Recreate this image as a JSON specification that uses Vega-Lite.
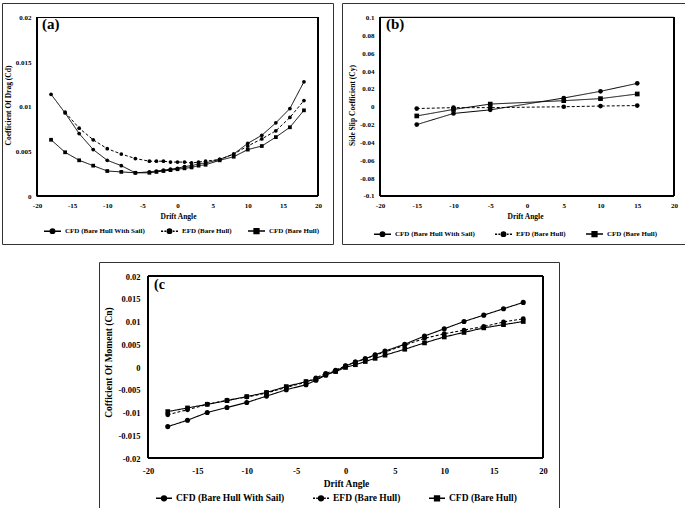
{
  "$schema": "https://vega.github.io/schema/vega-lite/v6.json",
  "padding": {"left": 1, "top": 2, "right": 0, "bottom": 0},
  "config": {
    "view": {"stroke": "#333333", "strokeWidth": 1},
    "axis": {
      "labelFont": "Liberation Serif", "labelFontWeight": "bold", "labelColor": "black",
      "titleFont": "Liberation Serif", "titleFontWeight": "bold", "titleColor": "black",
      "ticks": false, "domain": false, "grid": false
    },
    "legend": {
      "labelFont": "Liberation Serif", "labelFontWeight": "bold", "labelColor": "black",
      "orient": "none", "direction": "horizontal", "columns": 3, "padding": 0, "labelOffset": 3
    },
    "title": {"font": "Liberation Serif", "fontWeight": "bold", "color": "black", "anchor": "start", "frame": "group", "baseline": "alphabetic"}
  },
  "datasets": {
    "a": [
      {"angle": -18, "value": 0.0114, "series": "CFD (Bare Hull With Sail)"},
      {"angle": -16, "value": 0.0093, "series": "CFD (Bare Hull With Sail)"},
      {"angle": -14, "value": 0.0070, "series": "CFD (Bare Hull With Sail)"},
      {"angle": -12, "value": 0.0052, "series": "CFD (Bare Hull With Sail)"},
      {"angle": -10, "value": 0.0040, "series": "CFD (Bare Hull With Sail)"},
      {"angle": -8, "value": 0.0034, "series": "CFD (Bare Hull With Sail)"},
      {"angle": -6, "value": 0.0026, "series": "CFD (Bare Hull With Sail)"},
      {"angle": -4, "value": 0.0027, "series": "CFD (Bare Hull With Sail)"},
      {"angle": -3, "value": 0.0028, "series": "CFD (Bare Hull With Sail)"},
      {"angle": -2, "value": 0.0029, "series": "CFD (Bare Hull With Sail)"},
      {"angle": -1, "value": 0.0030, "series": "CFD (Bare Hull With Sail)"},
      {"angle": 0, "value": 0.0031, "series": "CFD (Bare Hull With Sail)"},
      {"angle": 1, "value": 0.0033, "series": "CFD (Bare Hull With Sail)"},
      {"angle": 2, "value": 0.0034, "series": "CFD (Bare Hull With Sail)"},
      {"angle": 3, "value": 0.0036, "series": "CFD (Bare Hull With Sail)"},
      {"angle": 4, "value": 0.0037, "series": "CFD (Bare Hull With Sail)"},
      {"angle": 6, "value": 0.0041, "series": "CFD (Bare Hull With Sail)"},
      {"angle": 8, "value": 0.0047, "series": "CFD (Bare Hull With Sail)"},
      {"angle": 10, "value": 0.0059, "series": "CFD (Bare Hull With Sail)"},
      {"angle": 12, "value": 0.0068, "series": "CFD (Bare Hull With Sail)"},
      {"angle": 14, "value": 0.0082, "series": "CFD (Bare Hull With Sail)"},
      {"angle": 16, "value": 0.0098, "series": "CFD (Bare Hull With Sail)"},
      {"angle": 18, "value": 0.0128, "series": "CFD (Bare Hull With Sail)"},
      {"angle": -16, "value": 0.0094, "series": "EFD (Bare Hull)"},
      {"angle": -14, "value": 0.0076, "series": "EFD (Bare Hull)"},
      {"angle": -12, "value": 0.0063, "series": "EFD (Bare Hull)"},
      {"angle": -10, "value": 0.0053, "series": "EFD (Bare Hull)"},
      {"angle": -8, "value": 0.0047, "series": "EFD (Bare Hull)"},
      {"angle": -6, "value": 0.0042, "series": "EFD (Bare Hull)"},
      {"angle": -4, "value": 0.0039, "series": "EFD (Bare Hull)"},
      {"angle": -3, "value": 0.0039, "series": "EFD (Bare Hull)"},
      {"angle": -2, "value": 0.0039, "series": "EFD (Bare Hull)"},
      {"angle": -1, "value": 0.0038, "series": "EFD (Bare Hull)"},
      {"angle": 0, "value": 0.0038, "series": "EFD (Bare Hull)"},
      {"angle": 1, "value": 0.0038, "series": "EFD (Bare Hull)"},
      {"angle": 2, "value": 0.0037, "series": "EFD (Bare Hull)"},
      {"angle": 3, "value": 0.0038, "series": "EFD (Bare Hull)"},
      {"angle": 4, "value": 0.0039, "series": "EFD (Bare Hull)"},
      {"angle": 6, "value": 0.0041, "series": "EFD (Bare Hull)"},
      {"angle": 8, "value": 0.0047, "series": "EFD (Bare Hull)"},
      {"angle": 10, "value": 0.0056, "series": "EFD (Bare Hull)"},
      {"angle": 12, "value": 0.0064, "series": "EFD (Bare Hull)"},
      {"angle": 14, "value": 0.0073, "series": "EFD (Bare Hull)"},
      {"angle": 16, "value": 0.0088, "series": "EFD (Bare Hull)"},
      {"angle": 18, "value": 0.0107, "series": "EFD (Bare Hull)"},
      {"angle": -18, "value": 0.0063, "series": "CFD (Bare Hull)"},
      {"angle": -16, "value": 0.0049, "series": "CFD (Bare Hull)"},
      {"angle": -14, "value": 0.0040, "series": "CFD (Bare Hull)"},
      {"angle": -12, "value": 0.0034, "series": "CFD (Bare Hull)"},
      {"angle": -10, "value": 0.0028, "series": "CFD (Bare Hull)"},
      {"angle": -8, "value": 0.0027, "series": "CFD (Bare Hull)"},
      {"angle": -6, "value": 0.0026, "series": "CFD (Bare Hull)"},
      {"angle": -4, "value": 0.0026, "series": "CFD (Bare Hull)"},
      {"angle": -3, "value": 0.0027, "series": "CFD (Bare Hull)"},
      {"angle": -2, "value": 0.0028, "series": "CFD (Bare Hull)"},
      {"angle": -1, "value": 0.0029, "series": "CFD (Bare Hull)"},
      {"angle": 0, "value": 0.0030, "series": "CFD (Bare Hull)"},
      {"angle": 1, "value": 0.0031, "series": "CFD (Bare Hull)"},
      {"angle": 2, "value": 0.0032, "series": "CFD (Bare Hull)"},
      {"angle": 3, "value": 0.0034, "series": "CFD (Bare Hull)"},
      {"angle": 4, "value": 0.0035, "series": "CFD (Bare Hull)"},
      {"angle": 6, "value": 0.0040, "series": "CFD (Bare Hull)"},
      {"angle": 8, "value": 0.0044, "series": "CFD (Bare Hull)"},
      {"angle": 10, "value": 0.0052, "series": "CFD (Bare Hull)"},
      {"angle": 12, "value": 0.0056, "series": "CFD (Bare Hull)"},
      {"angle": 14, "value": 0.0066, "series": "CFD (Bare Hull)"},
      {"angle": 16, "value": 0.0077, "series": "CFD (Bare Hull)"},
      {"angle": 18, "value": 0.0096, "series": "CFD (Bare Hull)"}
    ],
    "b": [
      {"angle": -15, "value": -0.0200, "series": "CFD (Bare Hull With Sail)"},
      {"angle": -10, "value": -0.0075, "series": "CFD (Bare Hull With Sail)"},
      {"angle": -5, "value": -0.0035, "series": "CFD (Bare Hull With Sail)"},
      {"angle": 5, "value": 0.0098, "series": "CFD (Bare Hull With Sail)"},
      {"angle": 10, "value": 0.0173, "series": "CFD (Bare Hull With Sail)"},
      {"angle": 15, "value": 0.0262, "series": "CFD (Bare Hull With Sail)"},
      {"angle": -15, "value": -0.0020, "series": "EFD (Bare Hull)"},
      {"angle": -10, "value": -0.0010, "series": "EFD (Bare Hull)"},
      {"angle": -5, "value": -0.0010, "series": "EFD (Bare Hull)"},
      {"angle": 5, "value": 0.0000, "series": "EFD (Bare Hull)"},
      {"angle": 10, "value": 0.0008, "series": "EFD (Bare Hull)"},
      {"angle": 15, "value": 0.0013, "series": "EFD (Bare Hull)"},
      {"angle": -15, "value": -0.0103, "series": "CFD (Bare Hull)"},
      {"angle": -10, "value": -0.0030, "series": "CFD (Bare Hull)"},
      {"angle": -5, "value": 0.0030, "series": "CFD (Bare Hull)"},
      {"angle": 5, "value": 0.0068, "series": "CFD (Bare Hull)"},
      {"angle": 10, "value": 0.0091, "series": "CFD (Bare Hull)"},
      {"angle": 15, "value": 0.0143, "series": "CFD (Bare Hull)"}
    ],
    "c": [
      {"angle": -18, "value": -0.0131, "series": "CFD (Bare Hull With Sail)"},
      {"angle": -16, "value": -0.0117, "series": "CFD (Bare Hull With Sail)"},
      {"angle": -14, "value": -0.0100, "series": "CFD (Bare Hull With Sail)"},
      {"angle": -12, "value": -0.0089, "series": "CFD (Bare Hull With Sail)"},
      {"angle": -10, "value": -0.0078, "series": "CFD (Bare Hull With Sail)"},
      {"angle": -8, "value": -0.0064, "series": "CFD (Bare Hull With Sail)"},
      {"angle": -6, "value": -0.0050, "series": "CFD (Bare Hull With Sail)"},
      {"angle": -4, "value": -0.0039, "series": "CFD (Bare Hull With Sail)"},
      {"angle": -3, "value": -0.0029, "series": "CFD (Bare Hull With Sail)"},
      {"angle": -2, "value": -0.0018, "series": "CFD (Bare Hull With Sail)"},
      {"angle": -1, "value": -0.0009, "series": "CFD (Bare Hull With Sail)"},
      {"angle": 0, "value": 0.0002, "series": "CFD (Bare Hull With Sail)"},
      {"angle": 1, "value": 0.0011, "series": "CFD (Bare Hull With Sail)"},
      {"angle": 2, "value": 0.0018, "series": "CFD (Bare Hull With Sail)"},
      {"angle": 3, "value": 0.0027, "series": "CFD (Bare Hull With Sail)"},
      {"angle": 4, "value": 0.0035, "series": "CFD (Bare Hull With Sail)"},
      {"angle": 6, "value": 0.0050, "series": "CFD (Bare Hull With Sail)"},
      {"angle": 8, "value": 0.0068, "series": "CFD (Bare Hull With Sail)"},
      {"angle": 10, "value": 0.0084, "series": "CFD (Bare Hull With Sail)"},
      {"angle": 12, "value": 0.0100, "series": "CFD (Bare Hull With Sail)"},
      {"angle": 14, "value": 0.0114, "series": "CFD (Bare Hull With Sail)"},
      {"angle": 16, "value": 0.0128, "series": "CFD (Bare Hull With Sail)"},
      {"angle": 18, "value": 0.0142, "series": "CFD (Bare Hull With Sail)"},
      {"angle": -18, "value": -0.0105, "series": "EFD (Bare Hull)"},
      {"angle": -16, "value": -0.0094, "series": "EFD (Bare Hull)"},
      {"angle": -14, "value": -0.0082, "series": "EFD (Bare Hull)"},
      {"angle": -12, "value": -0.0073, "series": "EFD (Bare Hull)"},
      {"angle": -10, "value": -0.0066, "series": "EFD (Bare Hull)"},
      {"angle": -8, "value": -0.0057, "series": "EFD (Bare Hull)"},
      {"angle": -6, "value": -0.0045, "series": "EFD (Bare Hull)"},
      {"angle": -4, "value": -0.0033, "series": "EFD (Bare Hull)"},
      {"angle": -3, "value": -0.0024, "series": "EFD (Bare Hull)"},
      {"angle": -2, "value": -0.0014, "series": "EFD (Bare Hull)"},
      {"angle": -1, "value": -0.0007, "series": "EFD (Bare Hull)"},
      {"angle": 0, "value": 0.0003, "series": "EFD (Bare Hull)"},
      {"angle": 1, "value": 0.0011, "series": "EFD (Bare Hull)"},
      {"angle": 2, "value": 0.0018, "series": "EFD (Bare Hull)"},
      {"angle": 3, "value": 0.0026, "series": "EFD (Bare Hull)"},
      {"angle": 4, "value": 0.0033, "series": "EFD (Bare Hull)"},
      {"angle": 6, "value": 0.0048, "series": "EFD (Bare Hull)"},
      {"angle": 8, "value": 0.0063, "series": "EFD (Bare Hull)"},
      {"angle": 10, "value": 0.0073, "series": "EFD (Bare Hull)"},
      {"angle": 12, "value": 0.0081, "series": "EFD (Bare Hull)"},
      {"angle": 14, "value": 0.0089, "series": "EFD (Bare Hull)"},
      {"angle": 16, "value": 0.0099, "series": "EFD (Bare Hull)"},
      {"angle": 18, "value": 0.0106, "series": "EFD (Bare Hull)"},
      {"angle": -18, "value": -0.0098, "series": "CFD (Bare Hull)"},
      {"angle": -16, "value": -0.0090, "series": "CFD (Bare Hull)"},
      {"angle": -14, "value": -0.0082, "series": "CFD (Bare Hull)"},
      {"angle": -12, "value": -0.0074, "series": "CFD (Bare Hull)"},
      {"angle": -10, "value": -0.0065, "series": "CFD (Bare Hull)"},
      {"angle": -8, "value": -0.0056, "series": "CFD (Bare Hull)"},
      {"angle": -6, "value": -0.0043, "series": "CFD (Bare Hull)"},
      {"angle": -4, "value": -0.0032, "series": "CFD (Bare Hull)"},
      {"angle": -3, "value": -0.0027, "series": "CFD (Bare Hull)"},
      {"angle": -2, "value": -0.0017, "series": "CFD (Bare Hull)"},
      {"angle": -1, "value": -0.0010, "series": "CFD (Bare Hull)"},
      {"angle": 0, "value": -0.0001, "series": "CFD (Bare Hull)"},
      {"angle": 1, "value": 0.0005, "series": "CFD (Bare Hull)"},
      {"angle": 2, "value": 0.0012, "series": "CFD (Bare Hull)"},
      {"angle": 3, "value": 0.0019, "series": "CFD (Bare Hull)"},
      {"angle": 4, "value": 0.0026, "series": "CFD (Bare Hull)"},
      {"angle": 6, "value": 0.0039, "series": "CFD (Bare Hull)"},
      {"angle": 8, "value": 0.0053, "series": "CFD (Bare Hull)"},
      {"angle": 10, "value": 0.0066, "series": "CFD (Bare Hull)"},
      {"angle": 12, "value": 0.0076, "series": "CFD (Bare Hull)"},
      {"angle": 14, "value": 0.0086, "series": "CFD (Bare Hull)"},
      {"angle": 16, "value": 0.0093, "series": "CFD (Bare Hull)"},
      {"angle": 18, "value": 0.0100, "series": "CFD (Bare Hull)"}
    ]
  },
  "spacing": 16,
  "resolve": {
    "scale": {"strokeDash": "independent", "shape": "independent", "size": "independent"},
    "legend": {"strokeDash": "independent", "shape": "independent", "size": "independent"}
  },
  "vconcat": [
    {
      "spacing": 7,
      "resolve": {
        "scale": {"strokeDash": "independent", "shape": "independent", "size": "independent"},
        "legend": {"strokeDash": "independent", "shape": "independent", "size": "independent"}
      },
      "hconcat": [
        {
          "width": 331,
          "height": 241,
          "title": {"text": "(a)", "fontSize": 15, "dx": 40, "offset": -29},
          "data": {"name": "a"},
          "resolve": {"scale": {"shape": "independent"}, "legend": {"shape": "independent"}},
          "encoding": {
            "x": {
              "field": "angle", "type": "quantitative",
              "scale": {"domain": [-24.982, 22.135], "nice": false, "zero": false},
              "axis": {"values": [-20, -15, -10, -5, 0, 5, 10, 15, 20], "offset": -48, "title": "Drift Angle",
                "labelExpr": "replace(format(datum.value, '~g'), '\u2212', '-')",
                "labelFontSize": 7, "titleFontSize": 7.5, "labelPadding": 5, "titlePadding": 4, "titleX": 176}
            },
            "y": {
              "field": "value", "type": "quantitative",
              "scale": {"domain": [-0.005378, 0.021625], "nice": false, "zero": false},
              "axis": {"values": [0, 0.005, 0.01, 0.015, 0.02], "offset": -35, "title": "Coefficient Of Drag (Cd)",
                "labelExpr": "replace(format(datum.value, '~g'), '\u2212', '-')",
                "labelFontSize": 7, "titleFontSize": 7.5, "labelPadding": 6, "titlePadding": 3, "titleY": 102}
            }
          },
          "layer": [
            {
              "mark": {"type": "rect", "fillOpacity": 0, "stroke": "black", "strokeWidth": 1},
              "encoding": {
                "x": {"datum": -20, "type": "quantitative"},
                "x2": {"datum": 20},
                "y": {"datum": 0, "type": "quantitative"},
                "y2": {"datum": 0.02}
              }
            },
            {
              "mark": {"type": "line", "color": "black", "strokeWidth": 1},
              "encoding": {
                "strokeDash": {"field": "series", "type": "nominal",
                  "scale": {"domain": ["CFD (Bare Hull With Sail)", "EFD (Bare Hull)", "CFD (Bare Hull)"], "range": [[1, 0], [3, 2], [1, 0]]}, "legend": null}
              }
            },
            {
              "mark": {"type": "point", "filled": true, "color": "black", "opacity": 1},
              "encoding": {
                "shape": {"field": "series", "type": "nominal", "scale": {"domain": ["CFD (Bare Hull With Sail)", "EFD (Bare Hull)", "CFD (Bare Hull)"], "range": ["circle", "circle", "square"]}, "legend": null},
                "size": {"field": "series", "type": "nominal", "scale": {"domain": ["CFD (Bare Hull With Sail)", "EFD (Bare Hull)", "CFD (Bare Hull)"], "range": [14, 14, 25]}, "legend": null}
              }
            },
            {
              "mark": {"type": "point", "filled": false, "color": "black", "fill": "black", "stroke": "black", "strokeWidth": 1, "opacity": 0},
              "encoding": {
                "shape": {
                  "field": "series", "type": "nominal",
                  "scale": {"domain": ["CFD (Bare Hull With Sail)", "EFD (Bare Hull)", "CFD (Bare Hull)"], "range": [
                    "M-1,0H1M-0.26,0A0.26,0.26,0,1,1,0.26,0A0.26,0.26,0,1,1,-0.26,0Z",
                    "M-1,0H-0.75M-0.6,0H-0.4M0.4,0H0.6M0.75,0H1M-0.26,0A0.26,0.26,0,1,1,0.26,0A0.26,0.26,0,1,1,-0.26,0Z",
                    "M-1,0H1M-0.28,-0.28H0.28V0.28H-0.28Z"]},
                  "legend": {"title": null, "legendX": 41, "legendY": 218.5, "labelFontSize": 7, "columnPadding": 13, "symbolSize": 289, "symbolOpacity": 1}
                }
              }
            }
          ]
        },
        {
          "width": 344,
          "height": 241,
          "title": {"text": "(b)", "fontSize": 15, "dx": 44, "offset": -29},
          "data": {"name": "b"},
          "resolve": {"scale": {"shape": "independent"}, "legend": {"shape": "independent"}},
          "encoding": {
            "x": {
              "field": "angle", "type": "quantitative",
              "scale": {"domain": [-25.170, 21.633], "nice": false, "zero": false},
              "axis": {"values": [-20, -15, -10, -5, 0, 5, 10, 15, 20], "offset": -48, "title": "Drift Angle",
                "labelExpr": "replace(format(datum.value, '~g'), '\u2212', '-')",
                "labelFontSize": 7, "titleFontSize": 7.5, "labelPadding": 5, "titlePadding": 4, "titleX": 183}
            },
            "y": {
              "field": "value", "type": "quantitative",
              "scale": {"domain": [-0.153782, 0.116246], "nice": false, "zero": false},
              "axis": {"values": [-0.1, -0.08, -0.06, -0.04, -0.02, 0, 0.02, 0.04, 0.06, 0.08, 0.1], "offset": -38, "title": "Side Slip Coefficient (Cy)",
                "labelExpr": "replace(format(datum.value, '~g'), '\u2212', '-')",
                "labelFontSize": 7, "titleFontSize": 7.5, "labelPadding": 6, "titlePadding": 3, "titleY": 102}
            }
          },
          "layer": [
            {
              "mark": {"type": "rect", "fillOpacity": 0, "stroke": "black", "strokeWidth": 1},
              "encoding": {
                "x": {"datum": -20, "type": "quantitative"},
                "x2": {"datum": 20},
                "y": {"datum": -0.1, "type": "quantitative"},
                "y2": {"datum": 0.1}
              }
            },
            {
              "mark": {"type": "line", "color": "black", "strokeWidth": 1},
              "encoding": {
                "strokeDash": {"field": "series", "type": "nominal",
                  "scale": {"domain": ["CFD (Bare Hull With Sail)", "EFD (Bare Hull)", "CFD (Bare Hull)"], "range": [[1, 0], [3, 2], [1, 0]]}, "legend": null}
              }
            },
            {
              "mark": {"type": "point", "filled": true, "color": "black", "opacity": 1},
              "encoding": {
                "shape": {"field": "series", "type": "nominal", "scale": {"domain": ["CFD (Bare Hull With Sail)", "EFD (Bare Hull)", "CFD (Bare Hull)"], "range": ["circle", "circle", "square"]}, "legend": null},
                "size": {"field": "series", "type": "nominal", "scale": {"domain": ["CFD (Bare Hull With Sail)", "EFD (Bare Hull)", "CFD (Bare Hull)"], "range": [22, 22, 28]}, "legend": null}
              }
            },
            {
              "mark": {"type": "point", "filled": false, "color": "black", "fill": "black", "stroke": "black", "strokeWidth": 1, "opacity": 0},
              "encoding": {
                "shape": {
                  "field": "series", "type": "nominal",
                  "scale": {"domain": ["CFD (Bare Hull With Sail)", "EFD (Bare Hull)", "CFD (Bare Hull)"], "range": [
                    "M-1,0H1M-0.26,0A0.26,0.26,0,1,1,0.26,0A0.26,0.26,0,1,1,-0.26,0Z",
                    "M-1,0H-0.75M-0.6,0H-0.4M0.4,0H0.6M0.75,0H1M-0.26,0A0.26,0.26,0,1,1,0.26,0A0.26,0.26,0,1,1,-0.26,0Z",
                    "M-1,0H1M-0.28,-0.28H0.28V0.28H-0.28Z"]},
                  "legend": {"title": null, "legendX": 31, "legendY": 221.5, "labelFontSize": 7, "columnPadding": 17, "symbolSize": 289, "symbolOpacity": 1}
                }
              }
            }
          ]
        }
      ]
    },
    {
      "spacing": 7,
      "resolve": {
        "scale": {"strokeDash": "independent", "shape": "independent", "size": "independent"},
        "legend": {"strokeDash": "independent", "shape": "independent", "size": "independent"}
      },
      "hconcat": [
        {
          "width": 89,
          "height": 10,
          "view": {"stroke": null},
          "data": {"values": []},
          "mark": "point",
          "encoding": {}
        },
        {
          "width": 460,
          "height": 246,
          "title": {"text": "(c", "fontSize": 14, "dx": 55, "offset": -30},
          "data": {"name": "c"},
          "resolve": {"scale": {"shape": "independent"}, "legend": {"shape": "independent"}},
          "encoding": {
            "x": {
              "field": "angle", "type": "quantitative",
              "scale": {"domain": [-24.962, 21.620], "nice": false, "zero": false},
              "axis": {"values": [-20, -15, -10, -5, 0, 5, 10, 15, 20], "offset": -50, "title": "Drift Angle",
                "labelExpr": "replace(format(datum.value, '~g'), '\u2212', '-')",
                "labelFontSize": 8.5, "titleFontSize": 9.5, "labelPadding": 8, "titlePadding": 4, "titleX": 247}
            },
            "y": {
              "field": "value", "type": "quantitative",
              "scale": {"domain": [-0.030989, 0.023077], "nice": false, "zero": false},
              "axis": {"values": [-0.02, -0.015, -0.01, -0.005, 0, 0.005, 0.01, 0.015, 0.02], "offset": -49, "title": "Cofficient Of Moment (Cn)",
                "labelExpr": "replace(format(datum.value, '~g'), '\u2212', '-')",
                "labelFontSize": 8.5, "titleFontSize": 9.5, "labelPadding": 8, "titlePadding": 5, "titleY": 100}
            }
          },
          "layer": [
            {
              "mark": {"type": "rect", "fillOpacity": 0, "stroke": "black", "strokeWidth": 1},
              "encoding": {
                "x": {"datum": -20, "type": "quantitative"},
                "x2": {"datum": 20},
                "y": {"datum": -0.02, "type": "quantitative"},
                "y2": {"datum": 0.02}
              }
            },
            {
              "mark": {"type": "line", "color": "black", "strokeWidth": 1.1},
              "encoding": {
                "strokeDash": {"field": "series", "type": "nominal",
                  "scale": {"domain": ["CFD (Bare Hull With Sail)", "EFD (Bare Hull)", "CFD (Bare Hull)"], "range": [[1, 0], [3, 2], [1, 0]]}, "legend": null}
              }
            },
            {
              "mark": {"type": "point", "filled": true, "color": "black", "opacity": 1},
              "encoding": {
                "shape": {"field": "series", "type": "nominal", "scale": {"domain": ["CFD (Bare Hull With Sail)", "EFD (Bare Hull)", "CFD (Bare Hull)"], "range": ["circle", "circle", "square"]}, "legend": null},
                "size": {"field": "series", "type": "nominal", "scale": {"domain": ["CFD (Bare Hull With Sail)", "EFD (Bare Hull)", "CFD (Bare Hull)"], "range": [26, 22, 30]}, "legend": null}
              }
            },
            {
              "mark": {"type": "point", "filled": false, "color": "black", "fill": "black", "stroke": "black", "strokeWidth": 1, "opacity": 0},
              "encoding": {
                "shape": {
                  "field": "series", "type": "nominal",
                  "scale": {"domain": ["CFD (Bare Hull With Sail)", "EFD (Bare Hull)", "CFD (Bare Hull)"], "range": [
                    "M-1,0H1M-0.3,0A0.3,0.3,0,1,1,0.3,0A0.3,0.3,0,1,1,-0.3,0Z",
                    "M-1,0H-0.75M-0.6,0H-0.4M0.4,0H0.6M0.75,0H1M-0.3,0A0.3,0.3,0,1,1,0.3,0A0.3,0.3,0,1,1,-0.3,0Z",
                    "M-1,0H1M-0.3,-0.3H0.3V0.3H-0.3Z"]},
                  "legend": {"title": null, "legendX": 56, "legendY": 227, "labelFontSize": 9.5, "columnPadding": 25, "symbolSize": 256, "symbolOpacity": 1}
                }
              }
            }
          ]
        }
      ]
    }
  ]
}
